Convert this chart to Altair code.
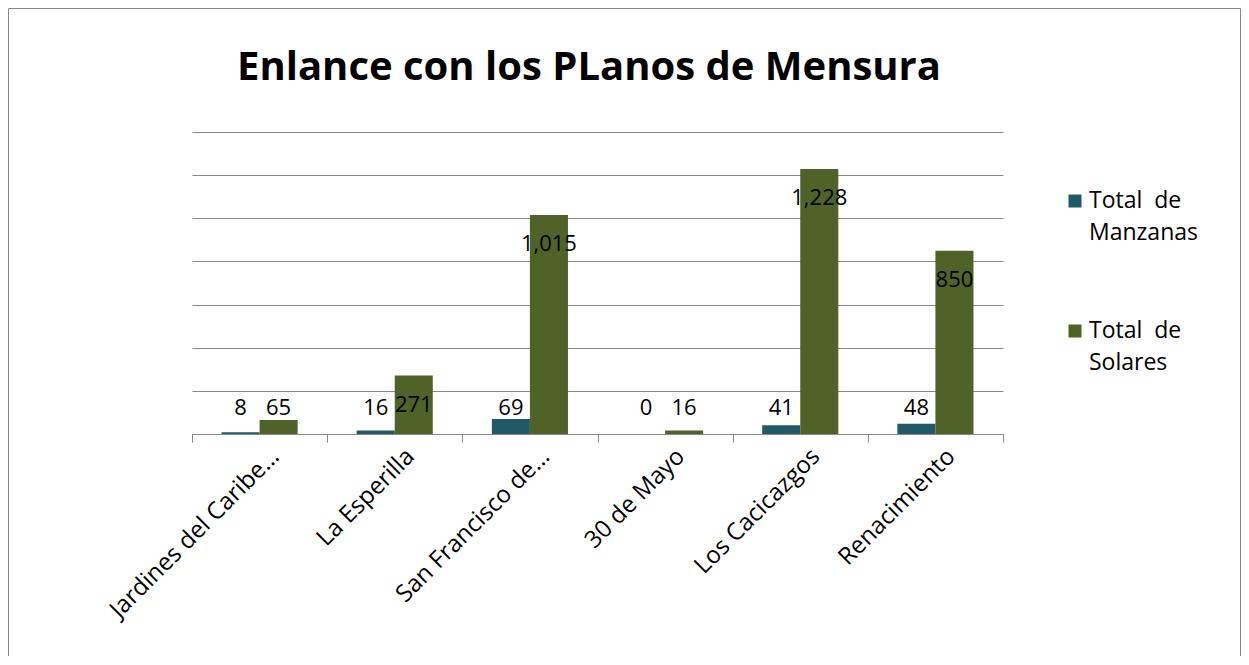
import altair as alt
import pandas as pd

categories = ["Jardines del Caribe…", "La Esperilla", "San Francisco de…",
              "30 de Mayo", "Los Cacicazgos", "Renacimiento"]
series_names = ["Total  de Manzanas", "Total  de Solares"]
legend_labels = ["Total\u00a0\u00a0de\nManzanas", "Total\u00a0\u00a0de\nSolares"]
manzanas = [8, 16, 69, 0, 41, 48]
solares = [65, 271, 1015, 16, 1228, 850]
y_ticks = [0, 200, 400, 600, 800, 1000, 1200, 1400]
colors = ["#215968", "#4F6228"]
title_text = "Enlance con los PLanos de Mensura"

FONT = "Open Sans"
GRAY = "#888888"
FS = 22

rows = []
for i, c in enumerate(categories):
    rows.append({"cat": c, "series": series_names[0], "value": manzanas[i]})
    rows.append({"cat": c, "series": series_names[1], "value": solares[i]})
df = pd.DataFrame(rows)

x_enc = alt.X("cat:N", sort=categories,
              scale=alt.Scale(paddingInner=0, paddingOuter=0),
              axis=alt.Axis(title=None, labelAngle=-45, labelAlign="right",
                            labelBaseline="top", tickBand="extent", tickSize=8,
                            domainColor=GRAY, tickColor=GRAY, labelColor="black",
                            labelFont=FONT, labelFontSize=24, labelPadding=2,
                            labelOffset=7, grid=False, labelLimit=400))
xoff = alt.XOffset("series:N", sort=series_names,
                   scale=alt.Scale(paddingInner=0, paddingOuter=0.776))
y_scale = alt.Scale(domain=[0, 1400], nice=False)
color_enc = alt.Color("series:N", scale=alt.Scale(domain=series_names, range=colors), legend=None)

bars = alt.Chart(df).mark_bar().encode(
    x=x_enc,
    xOffset=xoff,
    y=alt.Y("value:Q", scale=y_scale,
            axis=alt.Axis(values=y_ticks, labels=False, ticks=False, domain=False,
                          title=None, gridColor=GRAY, gridWidth=1)),
    color=color_enc,
)

labels = alt.Chart(df).transform_calculate(
    label_y="max(datum.value - 136, 120)"
).mark_text(font=FONT, fontSize=FS, color="black", baseline="middle").encode(
    x=x_enc,
    xOffset=xoff,
    y=alt.Y("label_y:Q", scale=y_scale, title=None),
    text=alt.Text("value:Q", format=","),
)

main = alt.layer(bars, labels)

leg_df = pd.DataFrame({"series": series_names, "label": legend_labels})
leg_y = alt.Y("series:N", sort=series_names,
              scale=alt.Scale(type="point", range=[69, 199], padding=0), axis=None)
leg_sym = alt.Chart(leg_df).mark_square(size=169, opacity=1).encode(
    x=alt.value(883), y=leg_y, color=color_enc)
leg_txt = alt.Chart(leg_df).mark_text(
    font=FONT, fontSize=23, align="left", baseline="middle", lineBreak="\n",
    lineHeight=32, color="black"
).encode(x=alt.value(897), y=leg_y, text="label:N")
legend = alt.layer(leg_sym, leg_txt)

single = pd.DataFrame({"t": [title_text]})
title_mark = alt.Chart(single).mark_text(
    font=FONT, fontSize=40, fontWeight="bold", color="black",
    align="center", baseline="alphabetic"
).encode(x=alt.value(397), y=alt.value(-52), text="t:N")

frame_top = alt.Chart(single).mark_rule(color=GRAY, strokeWidth=1).encode(
    x=alt.value(-183.5), x2=alt.value(1048.5), y=alt.value(-123.5))
frame_left = alt.Chart(single).mark_rule(color=GRAY, strokeWidth=1).encode(
    x=alt.value(-183.5), y=alt.value(-123.5), y2=alt.value(524))
frame_right = alt.Chart(single).mark_rule(color=GRAY, strokeWidth=1).encode(
    x=alt.value(1048.5), y=alt.value(-123.5), y2=alt.value(524))
frame = alt.layer(frame_top, frame_left, frame_right, title_mark)

chart = alt.layer(main, legend, frame).resolve_scale(y="independent").properties(
    width=811, height=302, padding=0,
).configure_view(stroke=None)

chart.save("out.html", embed_options={"renderer": "svg", "actions": False})
